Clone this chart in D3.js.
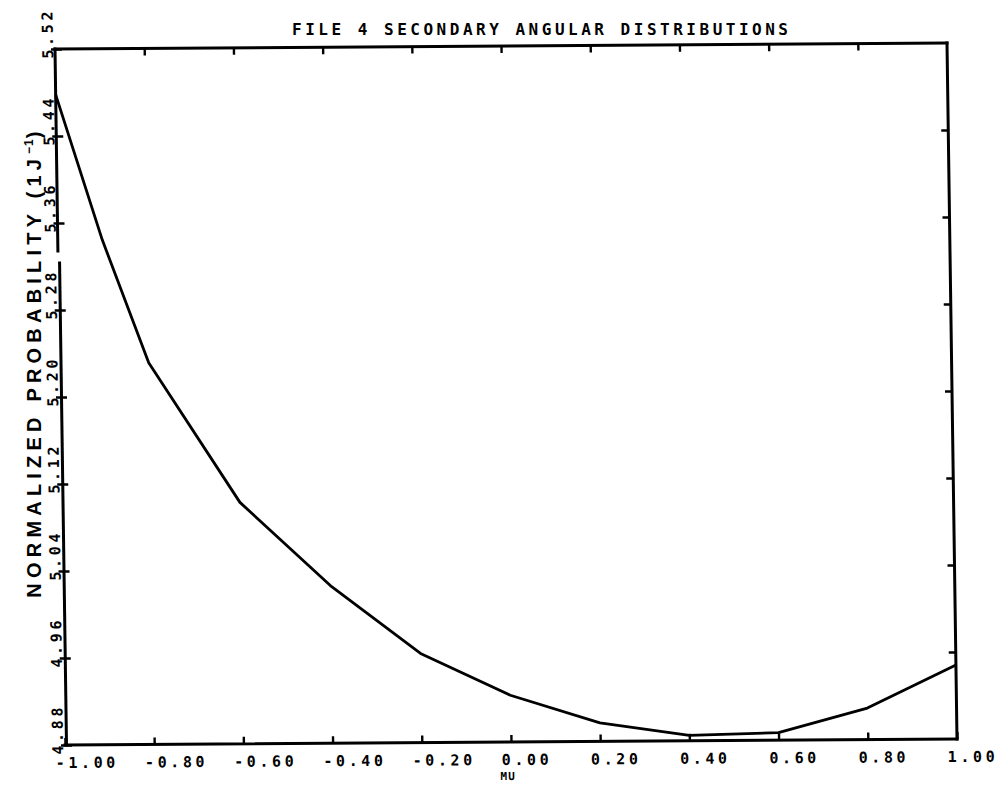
<!DOCTYPE html>
<html><head><meta charset="utf-8">
<script src="https://cdn.jsdelivr.net/npm/d3@7"></script>
<style>body{margin:0;background:#fff}</style>
</head><body><svg id="c" width="1003" height="785"></svg>
<script>
const mu = [-1.0, -0.9, -0.8, -0.6, -0.4, -0.2, 0.0, 0.2, 0.4, 0.6, 0.8, 1.0];
const prob = [5.478, 5.344, 5.231, 5.102, 5.025, 4.962, 4.923, 4.897, 4.885, 4.887, 4.909, 4.948];
const xTicks = [-1.0, -0.8, -0.6, -0.4, -0.2, 0.0, 0.2, 0.4, 0.6, 0.8, 1.0];
const xTickLabels = ["-1.00","-0.80","-0.60","-0.40","-0.20","0.00","0.20","0.40","0.60","0.80","1.00"];
const yTicks = [4.88, 4.96, 5.04, 5.12, 5.20, 5.28, 5.36, 5.44, 5.52];
const yTickLabels = ["4.88","4.96","5.04","5.12","5.20","5.28","5.36","5.44","5.52"];
const titleText = "FILE 4 SECONDARY ANGULAR DISTRIBUTIONS";
const xTitle = "MU";
const yTitleMain = "NORMALIZED PROBABILITY (1J";
const yTitleSup = "\u22121";

const W = 892, H = 696;
const monoFont = "'DejaVu Sans Mono', 'Liberation Mono', monospace";
const svg = d3.select("#c");
svg.append("rect").attr("width",1003).attr("height",785).attr("fill","#fff");

// slight skew like the scanned original
const g = svg.append("g").attr("transform", `matrix(1,${-6/892},${10/696},1,55,49)`);

const x = d3.scaleLinear().domain([-1, 1]).range([0, W]);
const y = d3.scaleLinear().domain([4.88, 5.52]).range([H, 0]);

// frame
const fr = g.append("g").attr("stroke","#000").attr("stroke-width",3).attr("fill","none").attr("stroke-linecap","square");
fr.append("line").attr("x1",0).attr("y1",0).attr("x2",W).attr("y2",0);
fr.append("line").attr("x1",W).attr("y1",0).attr("x2",W).attr("y2",H);
fr.append("line").attr("x1",0).attr("y1",H).attr("x2",W).attr("y2",H);
fr.append("line").attr("x1",0).attr("y1",0).attr("x2",0).attr("y2",202);
fr.append("line").attr("x1",1.5).attr("y1",214).attr("x2",1.5).attr("y2",H);

function styleAxis(sel){
  sel.select(".domain").remove();
  sel.selectAll("line").attr("stroke","#000").attr("stroke-width",2.4);
  sel.selectAll("text").attr("fill","#000").attr("font-family",monoFont)
     .attr("font-weight","bold").attr("font-size",15).attr("letter-spacing",3.6);
}

// bottom axis
const xb = g.append("g").attr("transform",`translate(0,${H})`)
  .call(d3.axisBottom(x).tickValues(xTicks).tickSize(-7).tickFormat((d,i)=>xTickLabels[i]));
styleAxis(xb);
xb.selectAll("text").attr("y",23).attr("dy",null).attr("x",-10).attr("text-anchor","start");

// top axis
const xt = g.append("g").call(d3.axisTop(x).tickValues(xTicks.slice(1,-1)).tickSize(-7).tickFormat(""));
styleAxis(xt);

// left axis
const yl = g.append("g")
  .call(d3.axisLeft(y).tickValues(yTicks).tickSize(-7).tickFormat((d,i)=>yTickLabels[i]));
styleAxis(yl);
yl.selectAll("line").attr("x1",-4);
yl.selectAll("text").attr("x",null).attr("dy",null).attr("text-anchor","start")
  .attr("transform","translate(-2,9) rotate(-90)");

// right axis
const yr = g.append("g").attr("transform",`translate(${W},0)`)
  .call(d3.axisRight(y).tickValues(yTicks.slice(1,-1)).tickSize(-7).tickFormat(""));
styleAxis(yr);

// curve
const line = d3.line().x((d,i)=>x(mu[i])).y(d=>y(d));
g.append("path").datum(prob).attr("d",line).attr("fill","none")
  .attr("stroke","#000").attr("stroke-width",2.8).attr("stroke-linejoin","round");

// x title
g.append("text").attr("x",x(0)-11).attr("y",H+38).text(xTitle)
  .attr("font-family",monoFont).attr("font-weight","bold").attr("font-size",11).attr("letter-spacing",1);

// chart title
svg.append("text").attr("x",292).attr("y",35).text(titleText)
  .attr("font-family",monoFont).attr("font-weight","bold").attr("font-size",16)
  .attr("textLength",496).attr("lengthAdjust","spacing");

// y title
const yt = svg.append("text").attr("transform","translate(41,362) rotate(-90)")
  .attr("text-anchor","middle").attr("font-family","'Liberation Sans', Arial, sans-serif")
  .attr("font-weight","bold").attr("font-size",20).attr("letter-spacing",5.2);
yt.append("tspan").text(yTitleMain);
yt.append("tspan").text(yTitleSup).attr("font-size",12).attr("dy",-8).attr("letter-spacing",1);
yt.append("tspan").text(")").attr("dy",8);
</script></body></html>
